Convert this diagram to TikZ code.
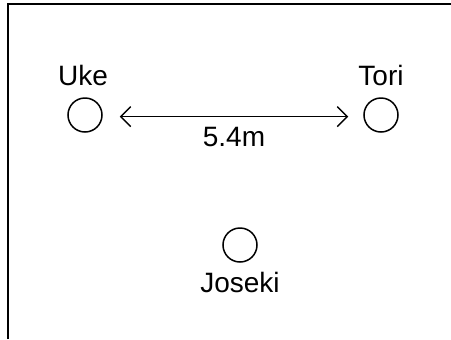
\documentclass[tikz,border=0pt]{standalone}
\usepackage{fontspec}
\setmainfont{Liberation Sans}
\usetikzlibrary{arrows.meta}
\begin{document}
\begin{tikzpicture}[x=0.5pt,y=-0.5pt,
  every node/.style={font=\fontsize{14}{17}\selectfont},
  player/.style={draw,circle,line width=0.75pt,minimum size=17pt,inner sep=0pt},
  playername/.style={anchor=base},
  dimarrow/.style={line width=0.7pt,{Straight Barb[length=5pt,width=10pt]}-{Straight Barb[length=5pt,width=10pt]}}]
\useasboundingbox (0,0) rectangle (451,339);
\draw[line width=0.75pt] (8,339) |- (451,4);

\node[player] (uke) at (85,115) {};
\node[player] (tori) at (381,115) {};
\node[player] (joseki) at (240,245) {};

\node[playername] (ukename) at (83,85) {Uke};
\node[playername] (toriname) at (381,85) {Tori};
\node[playername] (josekiname) at (240,292) {Joseki};

\draw[dimarrow] ([xshift=8.5pt,yshift=-0.8pt]uke.east) -- ([xshift=-7.5pt,yshift=-0.8pt]tori.west)
  node[midway,anchor=base,yshift=-15pt] (dist) {5.4m};
\end{tikzpicture}
\end{document}
